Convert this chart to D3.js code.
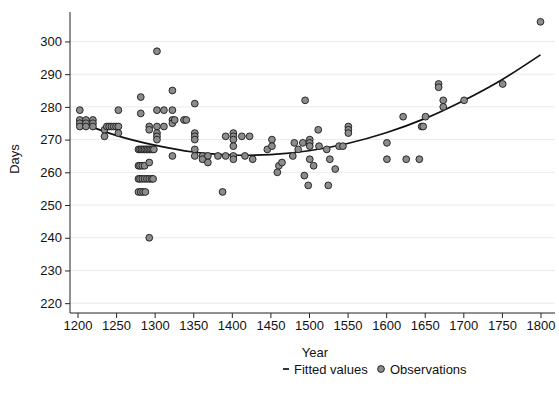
<!DOCTYPE html>
<html>
<head>
<meta charset="utf-8">
<script src="https://cdn.jsdelivr.net/npm/d3@7"></script>
<style>
  html, body { margin: 0; padding: 0; background: #fff; }
  svg { display: block; font-family: "Liberation Sans", Arial, Helvetica, sans-serif; }
</style>
</head>
<body>
<svg id="chart" width="559" height="401"></svg>
<script>
// Observations: year and gestation length in days
const obsYears = [
  1203,1203,1203,1203, 1211,1211,1211, 1220,1220,1220,
  1235,1235, 1238,1241,1244,1247,1250, 1253,1253,1253,
  1282,1282,
  1279,1281,1283,1285,1287,1289,1291,1293,1295,1297,1299,
  1279,1281,1284,1287, 1293,
  1279,1281,1284,1287,1290,1293,1296,1298,
  1279,1282,1285,1288,
  1293,
  1293,1293,
  1303,1303,1303,1303,1303,1303,
  1312,1312,
  1323,1323,1323,1323,1323, 1326, 1338,1341,
  1352,1352,1352,1352,1352,1352,
  1362,1362, 1369,1369, 1382, 1388, 1392,1392,
  1402,1402,1402,1402,1402,1402,
  1413, 1417, 1423, 1427, 1446, 1452,1452,
  1459, 1461, 1465, 1479, 1481, 1486, 1492, 1494, 1495, 1499,
  1501,1501,1501,1501, 1506, 1512, 1513, 1523, 1525, 1527, 1534,
  1539,1544, 1551,1551,1551,
  1601,1601, 1622, 1626, 1643, 1646,1648, 1651,
  1668,1668, 1674,1674, 1701, 1751, 1800
];
const obsDays = [
  279,276,275,274, 276,275,274, 276,275,274,
  273,271, 274,274,274,274,274, 279,274,272,
  283,278,
  267,267,267,267,267,267,267,267,267,267,267,
  262,262,262,262, 263,
  258,258,258,258,258,258,258,258,
  254,254,254,254,
  240,
  274,273,
  297,279,274,272,271,270,
  279,274,
  285,279,276,275,265, 276, 276,276,
  281,272,271,270,267,265,
  265,264, 265,263, 265, 254, 271,265,
  272,271,270,268,265,264,
  271, 265, 271, 264, 267, 270,268,
  260, 262, 263, 265, 269, 267, 269, 259, 282, 256,
  270,269,268,264, 262, 273, 268, 267, 256, 264, 261,
  268,268, 274,273,272,
  269,264, 277, 264, 264, 274,274, 277,
  287,286, 282,280, 282, 287, 306
];

// Quadratic fit read at 50-year steps
const fitYears = [1200,1250,1300,1350,1400,1450,1500,1550,1600,1650,1700,1750,1800];
const fitDays  = [275.5,271.3,268.3,266.2,265.3,265.4,266.6,268.8,272.1,276.4,281.9,288.3,295.9];

const xTicks = [1200,1250,1300,1350,1400,1450,1500,1550,1600,1650,1700,1750,1800];
const yTicks = [220,230,240,250,260,270,280,290,300];

const svg = d3.select("#chart");

const x = d3.scaleLinear().domain([1190.3, 1818.8]).range([70, 555]);
const y = d3.scaleLinear().domain([217, 309]).range([313, 12]);

// horizontal grid
svg.append("g")
  .selectAll("line")
  .data(yTicks)
  .join("line")
  .attr("x1", 70).attr("x2", 555)
  .attr("y1", d => y(d)).attr("y2", d => y(d))
  .attr("stroke", "#eaeaea").attr("stroke-width", 1);

// axes
const yAxis = svg.append("g")
  .attr("transform", "translate(70,0)")
  .call(d3.axisLeft(y).tickValues(yTicks).tickSize(5).tickPadding(3));
const xAxis = svg.append("g")
  .attr("transform", "translate(0,313)")
  .call(d3.axisBottom(x).tickValues(xTicks).tickSize(5).tickPadding(3).tickFormat(d3.format("d")));

[yAxis, xAxis].forEach(g => {
  g.select(".domain").attr("stroke", "#222").attr("stroke-width", 1);
  g.selectAll(".tick line").attr("stroke", "#222");
  g.selectAll("text").attr("fill", "#111").style("font-size", "13px")
    .style("font-family", '"Liberation Sans", Arial, sans-serif');
});
yAxis.select(".domain").attr("d", "M0,12V313");
xAxis.select(".domain").attr("d", "M70,0H555");

// axis titles
svg.append("text")
  .attr("transform", "translate(14,159) rotate(-90)")
  .attr("text-anchor", "middle").attr("dominant-baseline", "central")
  .attr("fill", "#111").style("font-size", "13px")
  .text("Days");
svg.append("text")
  .attr("x", 315).attr("y", 352)
  .attr("text-anchor", "middle").attr("dominant-baseline", "central")
  .attr("fill", "#111").style("font-size", "13px")
  .text("Year");

// fitted curve
const line = d3.line()
  .x((d, i) => x(fitYears[i]))
  .y(d => y(d))
  .curve(d3.curveNatural);
svg.append("path")
  .datum(fitDays)
  .attr("d", line)
  .attr("fill", "none")
  .attr("stroke", "#111")
  .attr("stroke-width", 1.7);

// observations
svg.append("g")
  .selectAll("circle")
  .data(obsYears.map((yr, i) => [yr, obsDays[i]]))
  .join("circle")
  .attr("cx", d => x(d[0]))
  .attr("cy", d => y(d[1]))
  .attr("r", 3.4)
  .attr("fill", "#8c8c8c")
  .attr("stroke", "#1a1a1a")
  .attr("stroke-width", 0.9);

// legend
const legY = 369;
const leg = svg.append("g");
leg.append("line")
  .attr("x1", 283).attr("x2", 289)
  .attr("y1", legY).attr("y2", legY)
  .attr("stroke", "#111").attr("stroke-width", 1.7);
leg.append("text")
  .attr("x", 294).attr("y", legY)
  .attr("dominant-baseline", "central")
  .attr("fill", "#111").style("font-size", "13px")
  .text("Fitted values");
leg.append("circle")
  .attr("cx", 381).attr("cy", legY).attr("r", 3.4)
  .attr("fill", "#8c8c8c").attr("stroke", "#1a1a1a").attr("stroke-width", 0.9);
leg.append("text")
  .attr("x", 390).attr("y", legY)
  .attr("dominant-baseline", "central")
  .attr("fill", "#111").style("font-size", "13px")
  .text("Observations");
</script>
</body>
</html>
